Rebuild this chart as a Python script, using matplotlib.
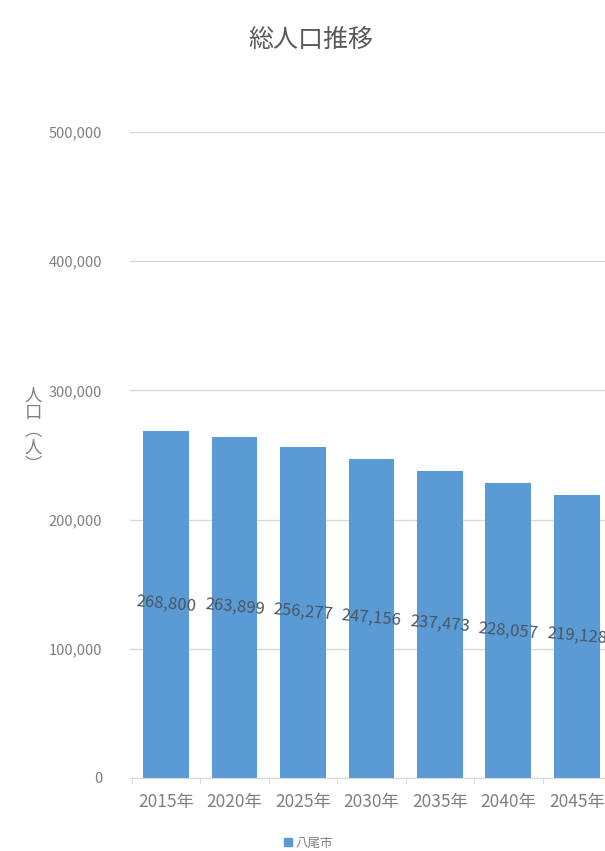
import matplotlib
matplotlib.use("Agg")
import matplotlib.pyplot as plt
import numpy as np
from matplotlib.patches import Patch
from matplotlib.ticker import FuncFormatter, FixedLocator

plt.rcParams["font.family"] = ["Noto Sans CJK JP", "DejaVu Sans"]

years = ["2015年", "2020年", "2025年", "2030年", "2035年", "2040年", "2045年"]
population = [268800, 263899, 256277, 247156, 237473, 228057, 219128]
yticks = [0, 100000, 200000, 300000, 400000, 500000]

BAR = "#5b9bd5"
GRID = "#d9d9d9"
TXT = "#7f7f7f"

fig = plt.figure(figsize=(6.05, 8.51), dpi=100)
ax = fig.add_axes([0.215, 0.0858, 0.785, 0.7591])

x = np.arange(len(years))
ax.bar(x, population, width=0.67, color=BAR, zorder=2)

# data labels sit in the middle of each bar
for xi, v in zip(x, population):
    ax.text(xi, v / 2, f"{v:,}", ha="center", va="center", fontsize=12,
            color="#4a5563", rotation=-5, zorder=3)

ax.set_ylim(0, 500000)
ax.set_xlim(-0.525, 6.41)
ax.set_yticks(yticks)
ax.yaxis.set_major_formatter(FuncFormatter(lambda v, p: f"{int(v):,}"))
ax.grid(axis="y", color=GRID, lw=1, zorder=0)
ax.set_xticks(x)
ax.set_xticklabels(years)
ax.xaxis.set_minor_locator(FixedLocator(np.arange(-0.5, len(years), 1.0)))
ax.tick_params(axis="x", which="major", length=0, pad=11, labelsize=12.5, labelcolor=TXT)
ax.tick_params(axis="x", which="minor", length=4, color=GRID)
ax.tick_params(axis="y", length=0, pad=20, labelsize=10.5, labelcolor=TXT)

for s in ["top", "right", "left"]:
    ax.spines[s].set_visible(False)
ax.spines["bottom"].set_color(GRID)

fig.text(0.055, 0.494, "人\n口\n︵\n人\n︶", ha="center", va="center",
         fontsize=12.5, color=TXT, linespacing=0.95)

fig.suptitle("総人口推移", x=0.514, y=0.968, fontsize=18, color="#595959")

fig.legend(handles=[Patch(color=BAR, label="八尾市")], loc="center",
           bbox_to_anchor=(0.51, 0.009), frameon=False, fontsize=9,
           handlelength=0.6, handleheight=0.6, handletextpad=0.3,
           labelcolor=TXT)

fig.savefig("out.png", dpi=100)
